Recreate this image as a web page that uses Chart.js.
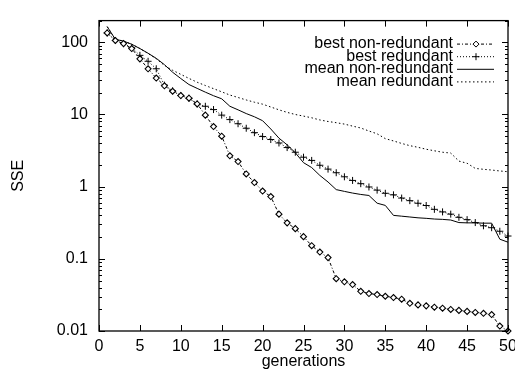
<!DOCTYPE html>
<html>
<head>
<meta charset="utf-8">
<script src="https://cdn.jsdelivr.net/npm/chart.js@4.4.0/dist/chart.umd.min.js"></script>
<style>
  html, body { margin: 0; padding: 0; background: #fff; }
  canvas { display: block; }
</style>
</head>
<body>
<canvas id="sseChart" width="515" height="375"></canvas>
<script>
const generations = [1, 2, 3, 4, 5, 6, 7, 8, 9, 10, 11, 12, 13, 14, 15, 16, 17, 18, 19, 20,
  21, 22, 23, 24, 25, 26, 27, 28, 29, 30, 31, 32, 33, 34, 35, 36, 37, 38, 39, 40,
  41, 42, 43, 44, 45, 46, 47, 48, 49, 50];

const bestNonRedundant = [135, 106, 96, 82, 59, 43, 32, 25, 21, 18.3, 16.8, 14, 9.8, 6.8, 5.0, 2.68, 2.23, 1.5, 1.14, 0.87,
  0.73, 0.416, 0.315, 0.262, 0.203, 0.152, 0.124, 0.104, 0.053, 0.048, 0.044, 0.0355, 0.033, 0.032, 0.0303, 0.0291, 0.0276, 0.0242, 0.023, 0.0223,
  0.0214, 0.0207, 0.0199, 0.0193, 0.0187, 0.0181, 0.0176, 0.0169, 0.0117, 0.0100];

const bestRedundant = [135, 106, 96, 84, 66, 54.6, 43, 25.5, 21.3, 18.3, 16.8, 14, 13, 11.7, 9.8, 8.5, 7.45, 6.45, 5.6, 4.95,
  4.5, 4.03, 3.48, 3.0, 2.56, 2.31, 1.98, 1.75, 1.56, 1.37, 1.22, 1.10, 0.99, 0.895, 0.81, 0.77, 0.695, 0.64, 0.589, 0.548,
  0.485, 0.447, 0.416, 0.376, 0.349, 0.318, 0.287, 0.27, 0.241, 0.207];

const meanNonRedundant = [165, 110, 104, 94, 82, 70.6, 60, 49, 38.5, 31.5, 26, 23, 20.4, 18.2, 16.5, 13, 11.6, 10.3, 9.3, 8.2,
  6.3, 4.7, 3.8, 2.95, 2.15, 1.84, 1.43, 1.16, 0.91, 0.86, 0.815, 0.78, 0.755, 0.59, 0.55, 0.40, 0.39, 0.38, 0.37, 0.364,
  0.356, 0.352, 0.345, 0.318, 0.315, 0.315, 0.312, 0.312, 0.187, 0.17];

const meanRedundant = [165, 110, 104, 94, 82, 70, 59, 48, 41, 36, 31.6, 28, 25.2, 22.8, 20.6, 18.6, 17.2, 15.9, 14.8, 13.9,
  12.7, 11.6, 10.7, 10.0, 9.5, 9.0, 8.4, 8.0, 7.7, 7.36, 6.9, 6.5, 5.9, 5.4, 4.63, 4.3, 3.97, 3.7, 3.51, 3.3,
  3.14, 3.0, 2.92, 2.26, 2.11, 1.79, 1.74, 1.70, 1.65, 1.61];

const xTickValues = [0, 5, 10, 15, 20, 25, 30, 35, 40, 45, 50];
const yTickValues = [0.01, 0.1, 1, 10, 100];
const yTickLabels = ['0.01', '0.1', '1', '10', '100'];

const FONT = '"Liberation Sans", Arial, Helvetica, sans-serif';

function pairs(values) {
  return generations.map((g, i) => ({ x: g, y: values[i] }));
}

// draws one marker, used for the legend samples
function drawMarker(ctx, style, cx, cy, r) {
  ctx.save();
  ctx.setLineDash([]);
  ctx.beginPath();
  if (style === 'rectRot') {
    ctx.moveTo(cx, cy - r); ctx.lineTo(cx + r, cy); ctx.lineTo(cx, cy + r); ctx.lineTo(cx - r, cy); ctx.closePath();
    ctx.fillStyle = '#fff';
    ctx.fill();
  } else if (style === 'cross') {
    ctx.moveTo(cx - r, cy); ctx.lineTo(cx + r, cy);
    ctx.moveTo(cx, cy - r); ctx.lineTo(cx, cy + r);
  }
  ctx.stroke();
  ctx.restore();
}

// frame, inward gnuplot style ticks and the key
const gnuplotFrame = {
  id: 'gnuplotFrame',
  afterDatasetsDraw(chart) {
    const { ctx, chartArea: a, scales: { x, y } } = chart;
    ctx.save();
    ctx.strokeStyle = '#000';
    ctx.lineWidth = 1;
    ctx.beginPath();
    xTickValues.forEach(v => {
      const px = Math.round(x.getPixelForValue(v)) + 0.5;
      ctx.moveTo(px, a.bottom); ctx.lineTo(px, a.bottom - 6);
      ctx.moveTo(px, a.top); ctx.lineTo(px, a.top + 6);
    });
    yTickValues.forEach(v => {
      const py = Math.round(y.getPixelForValue(v)) + 0.5;
      ctx.moveTo(a.left, py); ctx.lineTo(a.left + 6, py);
      ctx.moveTo(a.right, py); ctx.lineTo(a.right - 6, py);
      for (let m = 2; m <= 9; m++) {
        const mv = v * m;
        if (mv > y.max) break;
        const my = Math.round(y.getPixelForValue(mv)) + 0.5;
        ctx.moveTo(a.left, my); ctx.lineTo(a.left + 3, my);
        ctx.moveTo(a.right, my); ctx.lineTo(a.right - 3, my);
      }
    });
    ctx.stroke();

    ctx.lineWidth = 1.3;
    ctx.strokeRect(a.left, a.top, a.right - a.left, a.bottom - a.top);

    // key
    ctx.font = '16px ' + FONT;
    ctx.fillStyle = '#000';
    ctx.textAlign = 'right';
    ctx.textBaseline = 'middle';
    chart.data.datasets.forEach((ds, i) => {
      const yy = a.top + 23 + i * 12.6;
      ctx.fillText(ds.label, a.right - 55, yy);
      ctx.lineWidth = 1;
      ctx.setLineDash(ds.borderDash || []);
      ctx.beginPath();
      ctx.moveTo(a.right - 51, yy + 0.5);
      ctx.lineTo(a.right - 14, yy + 0.5);
      ctx.stroke();
      if (ds.pointRadius > 0) drawMarker(ctx, ds.pointStyle, a.right - 32, yy + 0.5, ds.pointRadius);
    });
    ctx.restore();
  }
};

new Chart(document.getElementById('sseChart'), {
  type: 'line',
  data: {
    datasets: [
      {
        label: 'best non-redundant',
        data: pairs(bestNonRedundant),
        borderColor: '#000',
        borderWidth: 1,
        borderDash: [3, 2, 1, 2],
        pointStyle: 'rectRot',
        pointRadius: 3,
        pointBorderWidth: 1.1,
        pointBackgroundColor: '#fff',
        pointBorderColor: '#000'
      },
      {
        label: 'best redundant',
        data: pairs(bestRedundant),
        borderColor: '#000',
        borderWidth: 1,
        borderDash: [1, 2],
        pointStyle: 'cross',
        pointRadius: 3.5,
        pointBorderWidth: 1,
        pointBorderColor: '#000'
      },
      {
        label: 'mean non-redundant',
        data: pairs(meanNonRedundant),
        borderColor: '#000',
        borderWidth: 1,
        pointRadius: 0
      },
      {
        label: 'mean redundant',
        data: pairs(meanRedundant),
        borderColor: '#000',
        borderWidth: 1,
        borderDash: [1.5, 2.5],
        pointRadius: 0
      }
    ]
  },
  options: {
    responsive: false,
    animation: false,
    devicePixelRatio: 1,
    clip: false,
    layout: { padding: { top: 9, right: 7, left: 0, bottom: 0 } },
    plugins: { legend: { display: false }, tooltip: { enabled: false } },
    elements: { line: { tension: 0 } },
    scales: {
      x: {
        type: 'linear',
        min: 0,
        max: 50,
        afterBuildTicks: s => { s.ticks = xTickValues.map(v => ({ value: v })); },
        afterFit: s => { s.height = 44; s.paddingLeft = 0; s.paddingRight = 0; },
        grid: { display: false, drawTicks: false },
        border: { display: false },
        ticks: { color: '#000', font: { family: FONT, size: 16 }, padding: 6, maxRotation: 0 },
        title: { display: true, text: 'generations', color: '#000', font: { family: FONT, size: 16 }, padding: { top: 0, bottom: 4 } }
      },
      y: {
        type: 'logarithmic',
        min: 0.01,
        max: 200,
        afterBuildTicks: s => { s.ticks = yTickValues.map(v => ({ value: v })); },
        afterFit: s => { s.width = 99; },
        grid: { display: false, drawTicks: false },
        border: { display: false },
        ticks: {
          color: '#000',
          font: { family: FONT, size: 16 },
          padding: 11,
          callback: (value) => {
            const i = yTickValues.indexOf(value);
            return i >= 0 ? yTickLabels[i] : '';
          }
        },
        title: { display: true, text: 'SSE', color: '#000', font: { family: FONT, size: 16 }, padding: { top: 9, bottom: 0 } }
      }
    }
  },
  plugins: [gnuplotFrame]
});
</script>
</body>
</html>
